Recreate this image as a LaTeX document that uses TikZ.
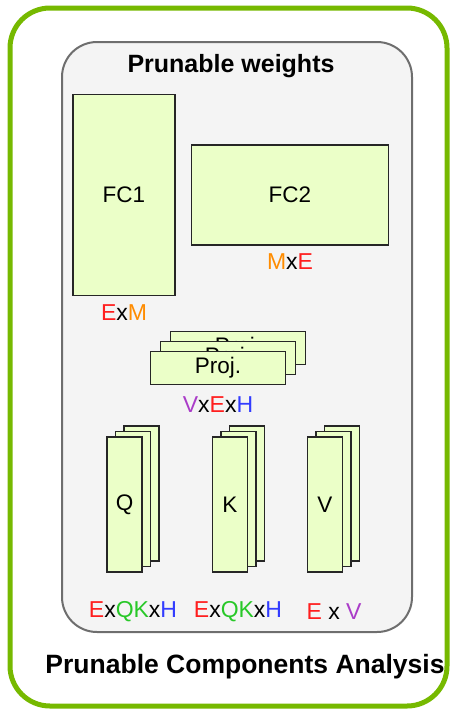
\documentclass[tikz,border=0pt]{standalone}
\usepackage{fontspec}
\setmainfont{Liberation Sans}
\usepackage{xcolor}
\usetikzlibrary{positioning}

\definecolor{nvgreen}{RGB}{118,185,0}
\definecolor{panelgray}{RGB}{244,244,244}
\definecolor{paneldraw}{RGB}{110,110,110}
\definecolor{cardfill}{RGB}{235,255,200}
\definecolor{dimred}{RGB}{255,30,30}
\definecolor{dimorange}{RGB}{255,140,0}
\definecolor{dimpurple}{RGB}{170,60,200}
\definecolor{dimblue}{RGB}{50,60,255}
\definecolor{dimgreen}{RGB}{40,200,40}

\newcommand{\dE}{\textcolor{dimred}{E}}
\newcommand{\dM}{\textcolor{dimorange}{M}}
\newcommand{\dV}{\textcolor{dimpurple}{V}}
\newcommand{\dH}{\textcolor{dimblue}{H}}
\newcommand{\dQK}{\textcolor{dimgreen}{QK}}

\begin{document}
\begin{tikzpicture}[
    x=1pt, y=-1pt,
    card/.style={draw=black!85, line width=1.3pt, fill=cardfill, inner sep=0pt, font=\fontsize{22.5}{26}\selectfont},
    dimlabel/.style={font=\fontsize{23}{27}\selectfont, inner sep=0pt},
    title/.style={font=\bfseries\fontsize{25}{29}\selectfont, inner sep=0pt}
]
    \useasboundingbox (0,0) rectangle (452,710);

    % Frames
    \draw[nvgreen, line width=5pt, rounded corners=40pt] (10,8) rectangle (447,706);
    \draw[paneldraw, fill=panelgray, line width=2pt, rounded corners=35pt] (62,42) rectangle (412,632);
    \node[title] (weights) at (231,66) {Prunable weights};

    % FC layers
    \node[card, minimum width=102pt, minimum height=201pt] (fc1) at (124,195) {FC1};
    \node[card, minimum width=197pt, minimum height=100pt] (fc2) at (290,195) {FC2};
    \node[dimlabel, below=8pt of fc1] (fc1dim) {\dE x\dM};
    \node[dimlabel, below=8pt of fc2] (fc2dim) {\dM x\dE};

    % Projection stack
    \foreach \i/\dx in {3/20, 2/10, 1/0}
        \node[card, minimum width=135pt, minimum height=33pt] (proj\i) at (218+\dx,368-\dx) {Proj.};
    \node[dimlabel, below=11pt of proj1] (projdim) {\dV x\dE x\dH};

    % Q, K, V stacks
    \foreach \n/\cx in {q/124.5, k/230, v/325}
        \foreach \i/\dx in {3/17, 2/8.5, 1/0}
            \node[card, minimum width=35pt, minimum height=135pt] (\n\i) at (\cx+\dx,504.5-0.65*\dx) {};
    \node[card, draw=none, fill=none] at (q1) {Q};
    \node[card, draw=none, fill=none] at (k1) {K};
    \node[card, draw=none, fill=none] at (v1) {V};
    \node[dimlabel] (qdim) at (133,612) {\dE x\dQK x\dH};
    \node[dimlabel] (kdim) at (238,612) {\dE x\dQK x\dH};
    \node[dimlabel] (vdim) at (334,612) {\dE\ x \dV};

    \node[font=\bfseries\fontsize{26.5}{30}\selectfont, inner sep=0pt] (analysis) at (245,667) {Prunable Components Analysis};
\end{tikzpicture}
\end{document}
